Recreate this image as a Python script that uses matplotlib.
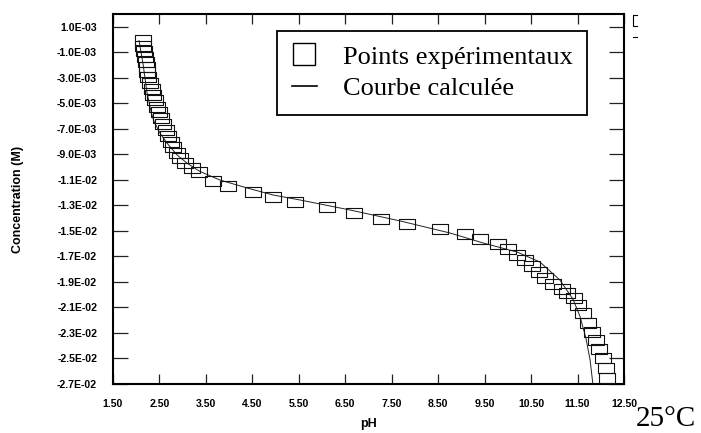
import numpy as np
import matplotlib
matplotlib.use("Agg")
import matplotlib.pyplot as plt
from matplotlib.path import Path
from matplotlib.lines import Line2D

# Experimental points (pH, concentration in M)
ph_exp = [2.14, 2.15, 2.17, 2.19, 2.20, 2.23, 2.24, 2.26, 2.30, 2.33, 2.37, 2.40,
          2.44, 2.49, 2.53, 2.58, 2.64, 2.69, 2.74, 2.80, 2.87, 2.94, 3.05, 3.19,
          3.35, 3.65, 3.98, 4.51, 4.94, 5.42, 6.10, 6.69, 7.26, 7.82, 8.54, 9.07,
          9.40, 9.78, 10.00, 10.19, 10.37, 10.51, 10.68, 10.80, 10.97, 11.16, 11.27,
          11.43, 11.51, 11.61, 11.72, 11.81, 11.90, 11.96, 12.04, 12.11, 12.14]
conc_exp = [-0.00004, -0.00051, -0.00090, -0.00135, -0.00174, -0.00213, -0.00255,
            -0.00294, -0.00341, -0.00388, -0.00435, -0.00474, -0.00529, -0.00568,
            -0.00615, -0.00662, -0.00709, -0.00756, -0.00803, -0.00842, -0.00890,
            -0.00929, -0.00968, -0.01007, -0.01038, -0.01109, -0.01152, -0.01198,
            -0.01237, -0.01277, -0.01315, -0.01362, -0.01403, -0.01446, -0.01485,
            -0.01524, -0.01564, -0.01603, -0.01644, -0.01689, -0.01728, -0.01775,
            -0.01820, -0.01872, -0.01916, -0.01958, -0.01989, -0.02028, -0.02081,
            -0.02146, -0.02220, -0.02290, -0.02355, -0.02428, -0.02499, -0.02577,
            -0.02653]

# Calculated curve
ph_calc = [2.06, 2.15, 2.23, 2.32, 2.38, 2.51, 2.66, 2.88, 3.09, 3.37, 3.80, 4.39,
           4.95, 5.53, 6.60, 7.68, 8.76, 9.47, 10.20, 10.69, 11.12, 11.40, 11.55,
           11.68, 11.77, 11.83]
conc_calc = [-0.00008, -0.00200, -0.00411, -0.00568, -0.00639, -0.00733, -0.00811,
             -0.00905, -0.00968, -0.01034, -0.01101, -0.01164, -0.01219, -0.01258,
             -0.01336, -0.01422, -0.01517, -0.01595, -0.01666, -0.01744, -0.01885,
             -0.02034, -0.02167, -0.02340, -0.02512, -0.02700]

x_ticks = [1.5, 2.5, 3.5, 4.5, 5.5, 6.5, 7.5, 8.5, 9.5, 10.5, 11.5, 12.5]
y_ticks = [0.001, -0.001, -0.003, -0.005, -0.007, -0.009, -0.011, -0.013, -0.015,
           -0.017, -0.019, -0.021, -0.023, -0.025, -0.027]
y_tick_labels = ["1.0E-03", "-1.0E-03", "-3.0E-03", "-5.0E-03", "-7.0E-03", "-9.0E-03",
                 "-1.1E-02", "-1.3E-02", "-1.5E-02", "-1.7E-02", "-1.9E-02", "-2.1E-02",
                 "-2.3E-02", "-2.5E-02", "-2.7E-02"]

W, H = 701, 433
fig = plt.figure(figsize=(W / 100, H / 100), dpi=100)
ax = fig.add_axes([113 / W, 1 - 384 / H, (624 - 113) / W, (384 - 14) / H])

# wide rectangle marker
rect = Path([(-1.5, -1), (1.5, -1), (1.5, 1), (-1.5, 1), (-1.5, -1)],
            [Path.MOVETO, Path.LINETO, Path.LINETO, Path.LINETO, Path.CLOSEPOLY])

ax.plot(ph_calc, conc_calc, color="#222222", lw=0.7, zorder=2)
ax.plot(ph_exp, conc_exp, ls="none", marker=rect, markersize=11,
        markerfacecolor="none", markeredgecolor="#111111", markeredgewidth=0.8, zorder=3)

ax.set_xlim(1.5, 12.5)
ax.set_ylim(-0.027, 0.002)
ax.set_xticks(x_ticks)
ax.set_xticklabels(["%.2f" % v for v in x_ticks])
ax.set_yticks(y_ticks)
ax.set_yticklabels(y_tick_labels)

tick_font = dict(family="Liberation Sans", weight="bold", size=7.6)
for lab in ax.get_xticklabels() + ax.get_yticklabels():
    lab.set_fontproperties(matplotlib.font_manager.FontProperties(**tick_font))

ax.tick_params(axis="y", direction="in", length=10.5, width=0.9, pad=11.5,
               right=True, color="#222222")
ax.tick_params(axis="x", direction="in", length=7.5, width=0.9, pad=10.5,
               top=True, color="#222222")
for s in ax.spines.values():
    s.set_linewidth(1.5)

ax.set_xlabel("pH", fontfamily="Liberation Sans", fontweight="bold", fontsize=9, va="center")
ax.xaxis.set_label_coords(0.5, (384 - 424) / 370)
ax.set_ylabel("Concentration (M)", fontfamily="Liberation Sans", fontweight="bold",
              fontsize=9, va="center")
ax.yaxis.set_label_coords(-(113 - 18) / 511, 0.5)

handles = [Line2D([], [], ls="none", marker="s", markersize=16, markerfacecolor="none",
                  markeredgecolor="black", markeredgewidth=1.0),
           Line2D([], [], color="black", lw=1.2)]
leg = ax.legend(handles, ["Points expérimentaux", "Courbe calculée"],
                loc="upper left", bbox_to_anchor=((277 - 113) / 511, (384 - 30.7) / 370),
                borderaxespad=0, prop={"family": "Liberation Serif", "size": 19},
                handlelength=0.95, handletextpad=1.0, borderpad=0.55, labelspacing=0.3,
                fancybox=False, framealpha=1, edgecolor="black")
leg.get_frame().set_linewidth(1.3)

# small clipped legend remnant at top right
fig.add_artist(Line2D([637 / W, 633 / W, 633 / W, 637 / W],
                      [1 - 15 / H, 1 - 15 / H, 1 - 26 / H, 1 - 26 / H],
                      color="black", lw=0.8, transform=fig.transFigure))
fig.add_artist(Line2D([633 / W, 637 / W], [1 - 37 / H, 1 - 37 / H],
                      color="black", lw=0.8, transform=fig.transFigure))

fig.text(636 / W, 1 / H, "25°C", family="Liberation Serif", fontsize=21,
         ha="left", va="bottom",
         bbox=dict(facecolor="white", edgecolor="none", pad=0))

fig.savefig("out.png", dpi=100, facecolor="white")
